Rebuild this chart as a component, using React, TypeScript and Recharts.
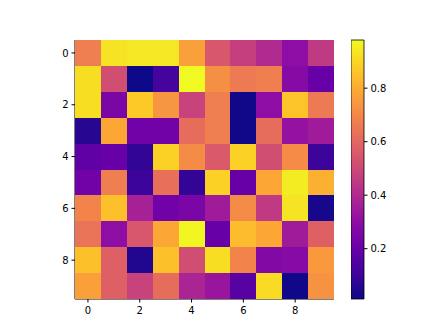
import { ScatterChart, Scatter, XAxis, YAxis, BarChart, Bar } from "recharts";

// 10x10 grid, row 0 at the top
const rowLabels = [0, 1, 2, 3, 4, 5, 6, 7, 8, 9];
const colLabels = [0, 1, 2, 3, 4, 5, 6, 7, 8, 9];
const axisTicks = [0, 2, 4, 6, 8];
const colorbarTicks = [0.2, 0.4, 0.6, 0.8];

const row0 = [0.67, 0.93, 0.94, 0.94, 0.77, 0.55, 0.47, 0.40, 0.30, 0.45];
const row1 = [0.92, 0.52, 0.012, 0.12, 0.98, 0.72, 0.66, 0.67, 0.28, 0.20];
const row2 = [0.92, 0.25, 0.87, 0.74, 0.48, 0.67, 0.02, 0.30, 0.86, 0.66];
const row3 = [0.06, 0.79, 0.22, 0.22, 0.62, 0.67, 0.02, 0.62, 0.32, 0.35];
const row4 = [0.18, 0.20, 0.08, 0.89, 0.71, 0.56, 0.89, 0.52, 0.71, 0.10];
const row5 = [0.22, 0.67, 0.10, 0.63, 0.08, 0.89, 0.20, 0.79, 0.95, 0.81];
const row6 = [0.69, 0.85, 0.37, 0.22, 0.25, 0.35, 0.71, 0.45, 0.93, 0.03];
const row7 = [0.64, 0.30, 0.55, 0.79, 0.97, 0.20, 0.84, 0.79, 0.35, 0.58];
const row8 = [0.85, 0.58, 0.05, 0.85, 0.52, 0.92, 0.69, 0.27, 0.28, 0.75];
const row9 = [0.77, 0.58, 0.48, 0.62, 0.38, 0.33, 0.16, 0.91, 0.02, 0.73];
const rows = [row0, row1, row2, row3, row4, row5, row6, row7, row8, row9];

const plasma = [
  "#0d0887", "#41049d", "#6a00a8", "#8f0da4", "#b12a90", "#cc4778",
  "#e16462", "#f2844b", "#fca636", "#fcce25", "#f0f921",
];

const allValues = rows.flat();
const vmin = Math.min(...allValues);
const vmax = Math.max(...allValues);

function hexToRgb(h: string) {
  return [1, 3, 5].map((i) => parseInt(h.slice(i, i + 2), 16));
}

function plasmaColor(v: number) {
  const t = Math.max(0, Math.min(1, (v - vmin) / (vmax - vmin)));
  const pos = t * (plasma.length - 1);
  const i = Math.min(Math.floor(pos), plasma.length - 2);
  const f = pos - i;
  const a = hexToRgb(plasma[i]);
  const b = hexToRgb(plasma[i + 1]);
  const c = a.map((x, k) => Math.round(x + (b[k] - x) * f));
  return `rgb(${c[0]},${c[1]},${c[2]})`;
}

const cells = rows.flatMap((r, i) =>
  r.map((v, j) => ({ col: colLabels[j], row: rowLabels[i], value: v }))
);

const W = 448;
const H = 336;
const PLOT_LEFT = 75;
const PLOT_TOP = 40;
const PLOT_SIZE = 259;
const CELL = PLOT_SIZE / 10;
const Y_AXIS_W = 30;
const X_AXIS_H = 30;

const tickStyle = { fill: "#000", fontSize: 10, fontFamily: "DejaVu Sans" };

const CellShape = (props: any) => {
  const { cx, cy, payload } = props;
  return (
    <rect
      x={cx - CELL / 2}
      y={cy - CELL / 2}
      width={CELL + 0.4}
      height={CELL + 0.4}
      fill={plasmaColor(payload.value)}
      stroke="none"
      shapeRendering="crispEdges"
    />
  );
};

export default function App() {
  return (
    <div style={{ position: "absolute", left: 0, top: 0, width: W, height: H, background: "#fff" }}>
      <div style={{ position: "absolute", left: 0, top: 0 }}>
        <ScatterChart
          width={W}
          height={H}
          margin={{
            top: PLOT_TOP,
            left: PLOT_LEFT - Y_AXIS_W,
            right: W - PLOT_LEFT - PLOT_SIZE,
            bottom: H - PLOT_TOP - PLOT_SIZE - X_AXIS_H,
          }}
        >
          <XAxis
            type="number"
            dataKey="col"
            domain={[-0.5, 9.5]}
            ticks={axisTicks}
            height={X_AXIS_H}
            tickSize={3.5}
            tickMargin={4}
            stroke="#000"
            tick={tickStyle}
            allowDataOverflow
          />
          <XAxis
            xAxisId="top"
            orientation="top"
            type="number"
            domain={[-0.5, 9.5]}
            height={0}
            tick={false}
            tickLine={false}
            stroke="#000"
          />
          <YAxis
            type="number"
            dataKey="row"
            domain={[-0.5, 9.5]}
            reversed
            ticks={axisTicks}
            width={Y_AXIS_W}
            tickSize={3.5}
            tickMargin={3}
            stroke="#000"
            tick={tickStyle}
            allowDataOverflow
          />
          <YAxis
            yAxisId="right"
            orientation="right"
            type="number"
            domain={[-0.5, 9.5]}
            width={0}
            tick={false}
            tickLine={false}
            stroke="#000"
          />
          <Scatter data={cells} shape={CellShape} isAnimationActive={false} />
        </ScatterChart>
      </div>
      <div style={{ position: "absolute", left: 351, top: 0 }}>
        <BarChart
          width={13 + 40}
          height={H}
          data={[{ k: "cb", range: [vmin, vmax] }]}
          margin={{ top: PLOT_TOP, bottom: H - PLOT_TOP - PLOT_SIZE, left: 0, right: 0 }}
          barCategoryGap={0}
        >
          <defs>
            <linearGradient id="plasmaGrad" x1="0" y1="1" x2="0" y2="0">
              {plasma.map((c, i) => (
                <stop key={i} offset={`${(i / (plasma.length - 1)) * 100}%`} stopColor={c} />
              ))}
            </linearGradient>
          </defs>
          <XAxis dataKey="k" hide />
          <YAxis
            orientation="right"
            type="number"
            domain={[vmin, vmax]}
            ticks={colorbarTicks}
            width={40}
            tickSize={3.5}
            tickMargin={3}
            axisLine={false}
            stroke="#000"
            tick={tickStyle}
            tickFormatter={(v: number) => v.toFixed(1)}
          />
          <Bar dataKey="range" fill="url(#plasmaGrad)" stroke="#000" strokeWidth={0.8} isAnimationActive={false} />
        </BarChart>
      </div>
    </div>
  );
}
